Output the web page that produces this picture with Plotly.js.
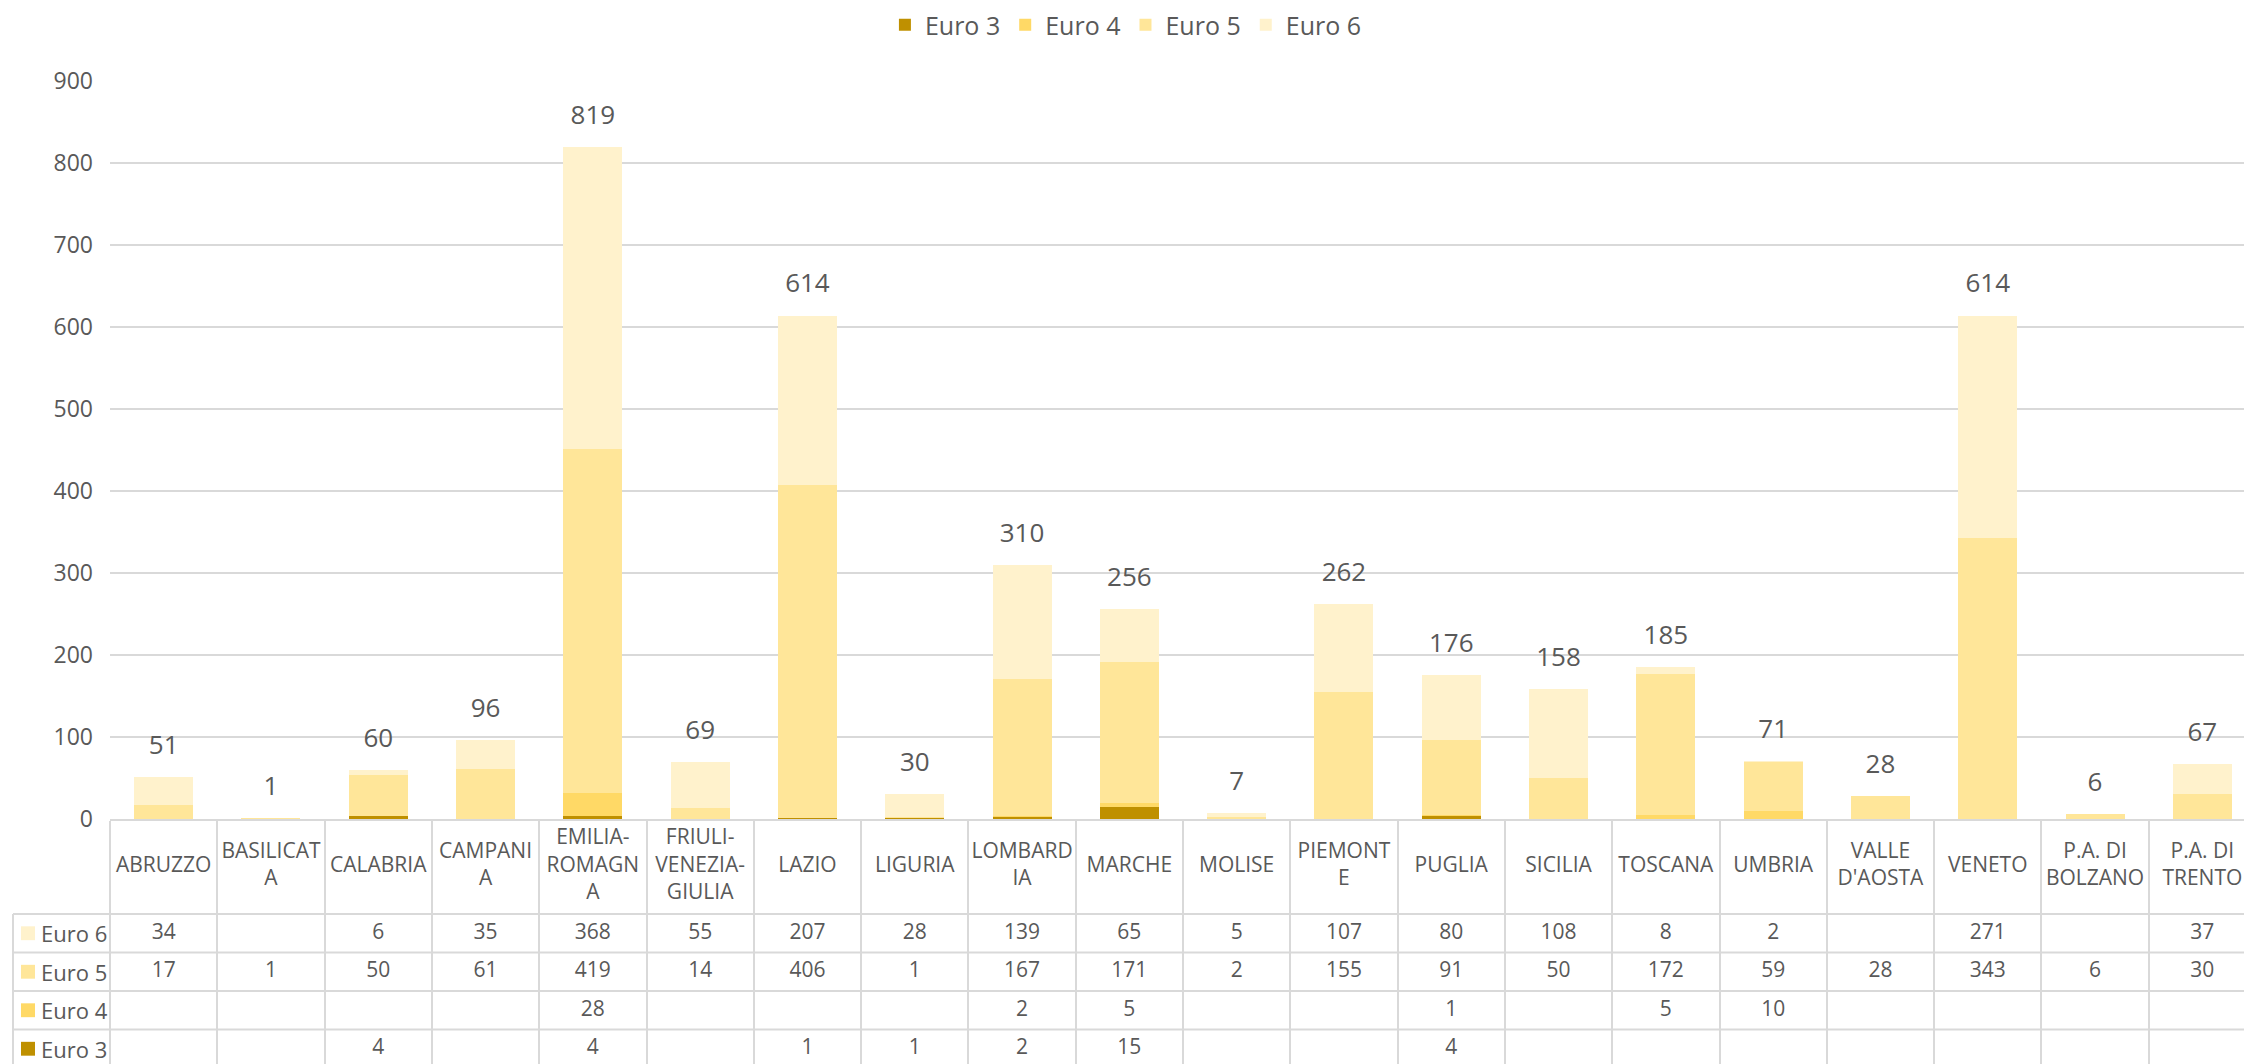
<!DOCTYPE html>
<html><head><meta charset="utf-8">
<script src="https://cdn.plot.ly/plotly-3.0.1.min.js"></script>
<style>html,body{margin:0;padding:0;overflow:hidden;background:#fff}#chart{width:2270px;height:1064px}</style>
</head><body><div id="chart"></div>
<script>
const categories = ['ABRUZZO','BASILICATA','CALABRIA','CAMPANIA','EMILIA-ROMAGNA','FRIULI-VENEZIA-GIULIA','LAZIO','LIGURIA','LOMBARDIA','MARCHE','MOLISE','PIEMONTE','PUGLIA','SICILIA','TOSCANA','UMBRIA',"VALLE D'AOSTA",'VENETO','P.A. DI BOLZANO','P.A. DI TRENTO'];
const tickLabels = ['ABRUZZO','BASILICAT<br>A','CALABRIA','CAMPANI<br>A','EMILIA-<br>ROMAGN<br>A','FRIULI-<br>VENEZIA-<br>GIULIA','LAZIO','LIGURIA','LOMBARD<br>IA','MARCHE','MOLISE','PIEMONT<br>E','PUGLIA','SICILIA','TOSCANA','UMBRIA',"VALLE<br>D'AOSTA",'VENETO','P.A. DI<br>BOLZANO','P.A. DI<br>TRENTO'];
const euro3 = [null,null,4,null,4,null,1,1,2,15,null,null,4,null,null,null,null,null,null,null];
const euro4 = [null,null,null,null,28,null,null,null,2,5,null,null,1,null,5,10,null,null,null,null];
const euro5 = [17,1,50,61,419,14,406,1,167,171,2,155,91,50,172,59,28,343,6,30];
const euro6 = [34,null,6,35,368,55,207,28,139,65,5,107,80,108,8,2,null,271,null,37];
const seriesNames = ['Euro 3','Euro 4','Euro 5','Euro 6'];
const seriesColors = ['#BF9000','#FFD966','#FFE699','#FFF2CC'];
const yTicks = [0,100,200,300,400,500,600,700,800,900];

const FONT = "'Open Sans', sans-serif";
const TXT = '#595959';
const LINE = '#d9d9d9';

const series = [euro3, euro4, euro5, euro6];
const totals = categories.map((c,i) => series.reduce((s,a) => s + (a[i]||0), 0));

const traces = [];
series.forEach((vals, k) => {
  traces.push({type:'bar', name:seriesNames[k], x:categories, y:vals,
    marker:{color:seriesColors[k], line:{width:0}}, xaxis:'x', yaxis:'y', hoverinfo:'skip'});
});
traces.push({type:'scatter', mode:'markers+text', x:categories, y:totals, text:totals.map(String),
  textposition:'top center', textfont:{family:FONT, size:26, color:TXT},
  marker:{size:25, color:'rgba(0,0,0,0)'}, showlegend:false, hoverinfo:'skip', cliponaxis:false, xaxis:'x', yaxis:'y'});

// table rows (top to bottom: Euro 6, Euro 5, Euro 4, Euro 3)
const tableOrder = [3,2,1,0];
tableOrder.forEach((k, row) => {
  traces.push({type:'scatter', mode:'text', x:categories, y:categories.map(()=>row),
    text:series[k].map(v => v==null ? '' : String(v)), textposition:'middle center',
    textfont:{family:FONT, size:21, color:TXT}, showlegend:false, hoverinfo:'skip', cliponaxis:false, xaxis:'x', yaxis:'y2'});
});
const ROW_PX = 38.5, HEADER_PX = 95, DOMAIN_PX = 245;
const headerTop = -0.5 - HEADER_PX/ROW_PX;
const headerMid = (-0.5 + headerTop)/2;
const y2Bottom = headerTop + DOMAIN_PX/ROW_PX;
traces.push({type:'scatter', mode:'text', x:categories, y:categories.map(()=>headerMid), text:tickLabels,
  textposition:'middle center', textfont:{family:FONT, size:21, color:TXT}, showlegend:false, hoverinfo:'skip', cliponaxis:false, xaxis:'x', yaxis:'y2'});

const W = 2270, L = 110, R = 14;
const plotW = W - L - R;
const px2paper = p => (p - L)/plotW;

const shapes = [];
[-0.5,0.5,1.5,2.5].forEach(b => shapes.push({type:'line', xref:'paper', yref:'y2', x0:px2paper(13), x1:1, y0:b, y1:b, line:{color:LINE, width:2}}));
shapes.push({type:'line', xref:'paper', yref:'y2', x0:px2paper(13), x1:px2paper(13), y0:-0.5, y1:y2Bottom, line:{color:LINE, width:2}});
const annotations = [];
tableOrder.forEach((k,row) => {
  shapes.push({type:'rect', xref:'paper', yref:'y2', x0:px2paper(21), x1:px2paper(35), y0:row-0.18, y1:row+0.18, fillcolor:seriesColors[k], line:{width:0}});
  annotations.push({xref:'paper', yref:'y2', x:px2paper(39), y:row, xanchor:'left', yanchor:'middle', showarrow:false,
    text:seriesNames[k], font:{family:FONT, size:22, color:TXT}});
});

const TOTAL_PX = 1064 - 81;
const layout = {
  width: W, height: 1064,
  margin:{l:L, r:R, t:81, b:0, pad:0},
  paper_bgcolor:'#fff', plot_bgcolor:'#fff',
  barmode:'stack', bargap:0.45,
  font:{family:FONT, color:TXT},
  showlegend:true,
  legend:{orientation:'h', xref:'container', x:0.496, xanchor:'center', yref:'container', y:1-25/1064, yanchor:'middle',
    font:{family:FONT, size:25, color:TXT}, itemgap:16, traceorder:'normal'},
  xaxis:{type:'category', categoryorder:'array', categoryarray:categories, range:[-0.5, categories.length-0.5],
    anchor:'y', showticklabels:false, showgrid:false, showline:true, linecolor:LINE, linewidth:2,
    ticks:'outside', tickson:'boundaries', ticklen:DOMAIN_PX, tickcolor:LINE, tickwidth:2, fixedrange:true, zeroline:false},
  yaxis:{domain:[DOMAIN_PX/TOTAL_PX, 1], range:[0,900], tickvals:yTicks, ticktext:yTicks.map(String),
    showgrid:true, gridcolor:LINE, gridwidth:2, zeroline:false, showline:false, ticks:'',
    tickfont:{family:FONT, size:23, color:TXT}, ticklabelstandoff:16, fixedrange:true},
  yaxis2:{domain:[0, DOMAIN_PX/TOTAL_PX], range:[y2Bottom, headerTop], anchor:'x', showgrid:false, zeroline:false,
    showticklabels:false, showline:false, ticks:'', fixedrange:true},
  shapes, annotations
};
Plotly.newPlot('chart', traces, layout, {displayModeBar:false, staticPlot:true});
</script></body></html>
